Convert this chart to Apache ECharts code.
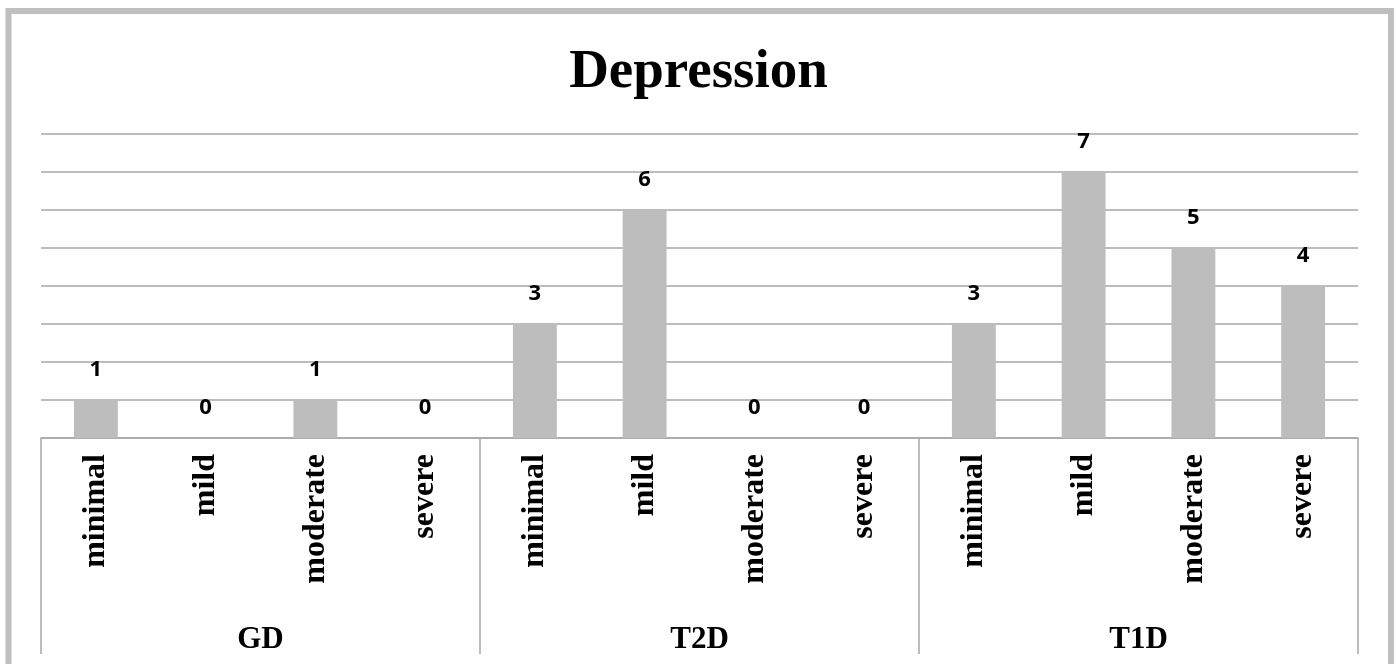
<!DOCTYPE html>
<html>
<head>
<meta charset="utf-8">
<script src="https://cdn.jsdelivr.net/npm/echarts@6/dist/echarts.min.js"></script>
<style>
html,body{margin:0;padding:0;background:#fff;}
#chart{width:1397px;height:664px;}
</style>
</head>
<body>
<div id="chart"></div>
<script>
const titleText = 'Depression';
const groups = ['GD', 'T2D', 'T1D'];
const levels = ['minimal', 'mild', 'moderate', 'severe'];
const gdValues = [1, 0, 1, 0];
const t2dValues = [3, 6, 0, 0];
const t1dValues = [3, 7, 5, 4];

const categories = [].concat(levels, levels, levels);
const values = [].concat(gdValues, t2dValues, t1dValues);

const chart = echarts.init(document.getElementById('chart'));
const gray = '#a6a6a6';
chart.setOption({
  backgroundColor: '#ffffff',
  animation: false,
  title: {
    text: titleText,
    left: 'center',
    top: 40,
    textStyle: {fontFamily: 'Liberation Serif', fontWeight: 'bold', fontSize: 55, color: '#000'}
  },
  graphic: [{
    type: 'rect',
    shape: {x: 8.5, y: 11, width: 1382.5, height: 700},
    style: {fill: 'none', stroke: '#bfbfbf', lineWidth: 6},
    silent: true
  }],
  grid: {left: 41, right: 39, top: 134, bottom: 226},
  xAxis: [{
    type: 'category',
    data: categories,
    position: 'bottom',
    axisLine: {show: true, lineStyle: {color: gray, width: 1.5}},
    axisTick: {show: false},
    axisLabel: {
      rotate: 90, margin: 16, color: '#000',
      fontFamily: 'Liberation Serif', fontWeight: 'bold', fontSize: 32,
      interval: 0
    }
  }, {
    type: 'category',
    data: groups,
    position: 'bottom',
    offset: 0,
    axisLine: {show: false},
    axisTick: {show: true, length: 216, lineStyle: {color: gray, width: 1.5}},
    axisLabel: {
      margin: 186, color: '#000',
      fontFamily: 'Liberation Serif', fontWeight: 'bold', fontSize: 31
    }
  }],
  yAxis: {
    type: 'value', min: 0, max: 8, interval: 1,
    axisLine: {show: false}, axisTick: {show: false}, axisLabel: {show: false},
    splitLine: {show: true, lineStyle: {color: gray, width: 1.5}}
  },
  series: [{
    type: 'bar',
    data: values,
    xAxisIndex: 0,
    barWidth: '40%',
    itemStyle: {color: '#bdbdbd'},
    label: {
      show: true, position: 'top', distance: 19,
      fontFamily: 'Open Sans', fontWeight: 'bold', fontSize: 22, color: '#000'
    }
  }]
});
</script>
</body>
</html>
